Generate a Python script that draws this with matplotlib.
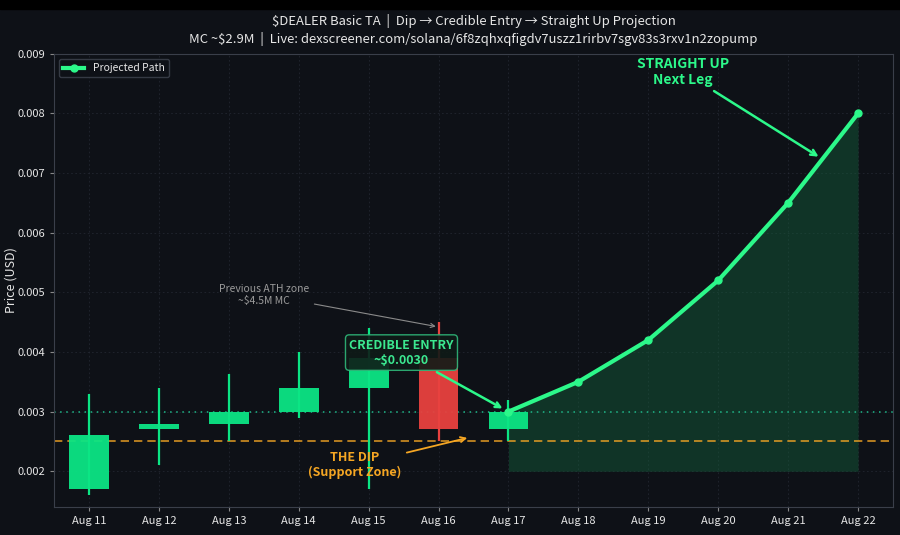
import matplotlib

matplotlib.use("Agg")
import matplotlib.pyplot as plt
import numpy as np

# candle data (Aug 11 .. Aug 17)
DATES = ["Aug 11", "Aug 12", "Aug 13", "Aug 14", "Aug 15", "Aug 16", "Aug 17",
         "Aug 18", "Aug 19", "Aug 20", "Aug 21", "Aug 22"]
OPEN = [0.0017, 0.0027, 0.0028, 0.0030, 0.0034, 0.0039, 0.0027]
CLOSE = [0.0026, 0.0028, 0.0030, 0.0034, 0.0039, 0.0027, 0.0030]
HIGH = [0.0033, 0.0034, 0.00363, 0.0040, 0.0044, 0.0045, 0.0032]
LOW = [0.0016, 0.0021, 0.0025, 0.0029, 0.0017, 0.0025, 0.0025]

# projected path (Aug 17 .. Aug 22)
PROJ_START = 6
PROJ = [0.0030, 0.0035, 0.0042, 0.0052, 0.0065, 0.0080]
FILL_BASE = 0.002

SUPPORT = 0.0025
ENTRY = 0.0030

BG = "#0e1117"
UP = "#0be584"
DOWN = "#e8413f"
LINE = "#2cf88a"
ORANGE = "#f5a623"
TEXT = "#e6e6e6"

plt.rcParams.update({
    "font.family": ["Noto Sans CJK SC", "DejaVu Sans"],
    "font.size": 8,
    "axes.unicode_minus": False,
})

fig = plt.figure(figsize=(9.0, 5.35), dpi=100, facecolor=BG)
ax = fig.add_axes([0.06, 0.0523, 0.9322, 0.8471], facecolor=BG)

# black strip at the very top of the screenshot
fig.patches.append(plt.Rectangle((0, 0.983), 1, 0.017, transform=fig.transFigure,
                                 color="black", zorder=0))

x = np.arange(len(DATES))
width = 0.57
for i in range(len(OPEN)):
    o, c, h, l = OPEN[i], CLOSE[i], HIGH[i], LOW[i]
    col = UP if c >= o else DOWN
    ax.bar(x[i], abs(c - o), bottom=min(o, c), width=width, color=col, alpha=0.95, zorder=3)
    ax.vlines(x[i], l, h, color=col, linewidth=1.6, zorder=4)

px = x[PROJ_START:PROJ_START + len(PROJ)]
ax.fill_between(px, FILL_BASE, PROJ, color="#14603c", alpha=0.45, linewidth=0, zorder=1)
ax.plot(px, PROJ, color=LINE, linewidth=3, marker="o", markersize=5,
        label="Projected Path", zorder=5)

ax.axhline(ENTRY, color="#1fb98a", linestyle=(0, (1, 3)), linewidth=1.1, zorder=2)
ax.axhline(SUPPORT, color=ORANGE, linestyle=(0, (5, 3)), linewidth=1.2, alpha=0.85, zorder=2)

ax.set_xlim(-0.5, 11.5)
ax.set_ylim(0.0014, 0.009)
ax.set_xticks(x, DATES)
ax.set_yticks([0.002, 0.003, 0.004, 0.005, 0.006, 0.007, 0.008, 0.009])
ax.set_ylabel("Price (USD)", color=TEXT, fontsize=9)
ax.yaxis.set_label_coords(-0.043, 0.5)
ax.tick_params(colors=TEXT, labelsize=8, length=3, color="#888888")
for sp in ax.spines.values():
    sp.set_color("#3a3f4a")
ax.grid(True, color="#2a2f3a", linestyle=(0, (2, 3)), linewidth=0.6, alpha=0.7)
ax.set_axisbelow(True)

ax.set_title("$DEALER Basic TA  |  Dip → Credible Entry → Straight Up Projection\n"
             "MC ~$2.9M  |  Live: dexscreener.com/solana/6f8zqhxqfigdv7uszz1rirbv7sgv83s3rxv1n2zopump",
             color=TEXT, fontsize=9.4, pad=8, linespacing=1.3)

ax.annotate("Previous ATH zone\n~$4.5M MC", xy=(5.0, 0.00442), xytext=(2.5, 0.00496),
            color="#9a9a9a", fontsize=7.5, ha="center", va="center",
            arrowprops=dict(arrowstyle="->", color="#8a8a8a", lw=0.8), zorder=6)

ax.annotate("CREDIBLE ENTRY\n~$0.0030", xy=(5.95, 0.00303), xytext=(4.47, 0.00399),
            color="#3be890", fontsize=9, fontweight="bold", ha="center", va="center",
            bbox=dict(boxstyle="round,pad=0.3", facecolor="#0f1b17", edgecolor="#2fb87a",
                      alpha=0.9, lw=1),
            arrowprops=dict(arrowstyle="->", color=LINE, lw=1.8), zorder=7)

ax.annotate("THE DIP\n(Support Zone)", xy=(5.45, 0.00257), xytext=(3.8, 0.0021),
            color=ORANGE, fontsize=9, fontweight="bold", ha="center", va="center",
            arrowprops=dict(arrowstyle="->", color=ORANGE, lw=1.3), zorder=7)

ax.annotate("STRAIGHT UP\nNext Leg", xy=(10.47, 0.00725), xytext=(8.5, 0.0087),
            color=LINE, fontsize=10, fontweight="bold", ha="center", va="center",
            arrowprops=dict(arrowstyle="->", color=LINE, lw=1.8), zorder=7)

leg = ax.legend(loc="upper left", fontsize=7.5, facecolor=BG, edgecolor="#3a3f4a",
                labelcolor=TEXT, framealpha=0.9)

fig.savefig("out.png", dpi=100, facecolor=BG)
